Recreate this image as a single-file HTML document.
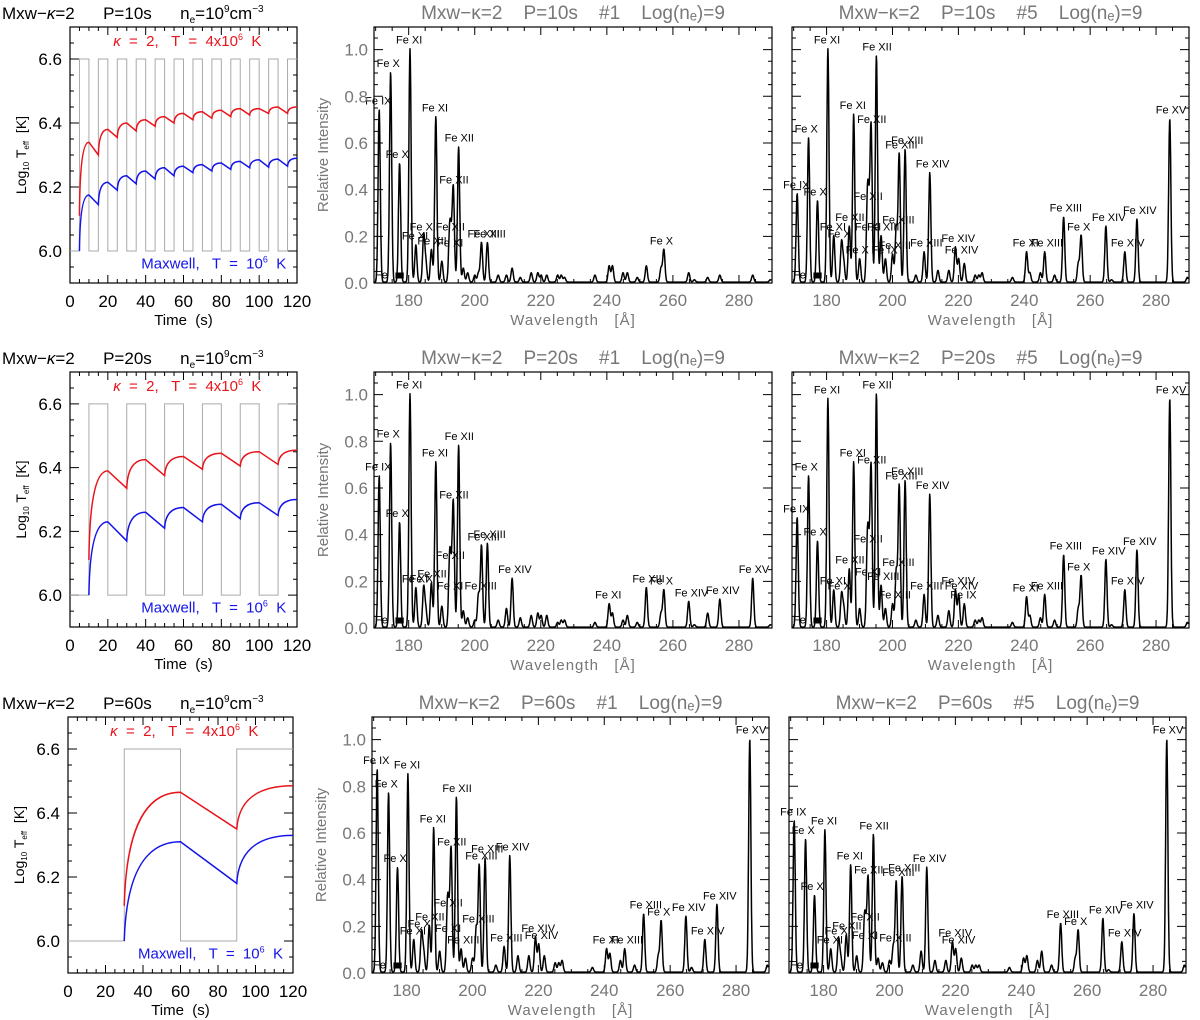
<!DOCTYPE html>
<html><head><meta charset="utf-8">
<style>
body{margin:0;background:#fff;}
svg{display:block;font-family:"Liberation Sans",sans-serif;}
text{white-space:pre;}
</style></head>
<body>
<svg id="fig" width="1200" height="1020" viewBox="0 0 1200 1020" xmlns="http://www.w3.org/2000/svg"></svg>
<script>
// ---------- data ----------
const lineWl = [171.07,174.53,177.24,180.40,182.17,184.54,185.21,186.88,188.22,190.04,192.39,192.83,193.51,195.12,196.54,197.86,200.02,201.13,202.04,203.83,207.1,209.6,211.32,213.8,217.1,219.1,220.1,221.8,225.1,226.2,227.2,236.4,240.7,241.7,244.9,246.2,249.2,251.95,256.4,257.26,264.78,266.5,270.52,274.2,284.16,289.5];
const lineIon = ["Fe IX","Fe X","Fe X","Fe XI","Fe XI","Fe X","Fe VIII","Fe XII","Fe XI","Fe X","Fe XII","Fe XI","Fe XII","Fe XII","Fe XIII","Fe IX","Fe XIII","Fe XIII","Fe XIII","Fe XIII","Fe X","Fe XIII","Fe XIV","Fe XIII","Fe IX","Fe XIV","Fe XIV","Fe IX","Fe X","Fe X","Fe X","Fe IX","Fe XI","Fe IX","Fe IX","Fe XIII","Fe IX","Fe XIII","Fe X","Fe X","Fe XIV","Fe X","Fe XIV","Fe XIV","Fe XV","Fe XV"];
const specP10n1 = [0.74,0.90,0.51,1.0,0.16,0.20,0.08,0.14,0.71,0.09,0.20,0.13,0.40,0.58,0.06,0.04,0.03,0.04,0.17,0.17,0.03,0.03,0.06,0.02,0.04,0.04,0.03,0.03,0.03,0.03,0.02,0.03,0.07,0.07,0.04,0.04,0.02,0.07,0.06,0.14,0.04,0.01,0.02,0.03,0.03,0.01];
const specP10n5 = [0.38,0.62,0.35,1.0,0.20,0.17,0.08,0.24,0.72,0.10,0.33,0.20,0.66,0.97,0.20,0.10,0.12,0.23,0.55,0.57,0.03,0.13,0.47,0.05,0.05,0.15,0.10,0.08,0.03,0.03,0.04,0.02,0.13,0.04,0.04,0.13,0.03,0.28,0.08,0.20,0.24,0.01,0.13,0.27,0.70,0.02];
const specP20n1 = [0.65,0.79,0.45,1.0,0.17,0.17,0.07,0.19,0.71,0.09,0.27,0.14,0.53,0.78,0.07,0.04,0.03,0.14,0.35,0.36,0.03,0.08,0.21,0.04,0.05,0.06,0.05,0.05,0.02,0.03,0.03,0.02,0.10,0.06,0.03,0.05,0.02,0.17,0.06,0.16,0.11,0.01,0.06,0.12,0.21,0.01];
const specP20n5 = [0.47,0.65,0.37,0.98,0.16,0.14,0.08,0.25,0.71,0.08,0.34,0.20,0.68,1.0,0.18,0.08,0.10,0.24,0.61,0.63,0.03,0.14,0.57,0.05,0.07,0.16,0.14,0.10,0.03,0.03,0.04,0.02,0.13,0.05,0.04,0.14,0.03,0.31,0.08,0.22,0.29,0.01,0.16,0.33,0.98,0.02];
const specP60n1 = [0.87,0.77,0.45,0.85,0.14,0.17,0.08,0.20,0.62,0.09,0.26,0.15,0.52,0.75,0.10,0.06,0.06,0.19,0.46,0.49,0.03,0.11,0.50,0.07,0.07,0.15,0.12,0.07,0.04,0.04,0.05,0.02,0.10,0.08,0.05,0.10,0.03,0.25,0.07,0.22,0.24,0.02,0.14,0.29,1.0,0.03];
const specP60n5 = [0.65,0.57,0.33,0.61,0.10,0.14,0.06,0.16,0.46,0.07,0.20,0.12,0.40,0.59,0.06,0.04,0.05,0.11,0.39,0.41,0.03,0.09,0.45,0.05,0.05,0.13,0.10,0.06,0.03,0.03,0.03,0.02,0.06,0.07,0.05,0.09,0.03,0.21,0.06,0.18,0.23,0.01,0.13,0.25,1.0,0.03];
const specTicks = [180,200,220,240,260,280];
const specYTicks = [0.0,0.2,0.4,0.6,0.8,1.0];

const tempTicksX = [0,20,40,60,80,100,120];
const tempTicksY = [6.0,6.2,6.4,6.6];
const p10Times = [5,10,15,20,25,30,35,40,45,50,55,60,65,70,75,80,85,90,95,100,105,110,115,120];
const p10Kappa = [6.11,6.34,6.30,6.38,6.355,6.40,6.375,6.41,6.39,6.42,6.40,6.43,6.41,6.435,6.415,6.44,6.42,6.445,6.425,6.445,6.43,6.45,6.43,6.45];
const p10Maxw  = [6.00,6.175,6.145,6.215,6.19,6.235,6.21,6.25,6.225,6.26,6.235,6.265,6.245,6.27,6.25,6.275,6.255,6.28,6.26,6.285,6.262,6.287,6.265,6.29];
const p20Times = [10,20,30,40,50,60,70,80,90,100,110,120];
const p20Kappa = [6.11,6.39,6.335,6.425,6.375,6.435,6.395,6.445,6.405,6.45,6.41,6.455];
const p20Maxw  = [6.00,6.23,6.17,6.26,6.21,6.275,6.23,6.285,6.24,6.29,6.25,6.30];
const p60Times = [30,60,90,120];
const p60Kappa = [6.11,6.465,6.35,6.485];
const p60Maxw  = [6.00,6.31,6.18,6.33];

// ---------- helpers ----------
const NS="http://www.w3.org/2000/svg";
const svg=document.getElementById('fig');
function mk(tag,attrs,parent){const e=document.createElementNS(NS,tag);for(const k in attrs)e.setAttribute(k,attrs[k]);(parent||svg).appendChild(e);return e;}
function txt(s,x,y,size,fill,anchor,parent){const t=mk('text',{x:x,y:y,'font-size':size,fill:fill,'text-anchor':anchor||'middle'},parent);t.textContent=s;return t;}

function frame(g,box,xdom,ydom,xMinor,yMinor){
  const sx=v=>box.x0+(v-xdom[0])/(xdom[1]-xdom[0])*(box.x1-box.x0);
  const sy=v=>box.y1-(v-ydom[0])/(ydom[1]-ydom[0])*(box.y1-box.y0);
  mk('rect',{x:box.x0,y:box.y0,width:box.x1-box.x0,height:box.y1-box.y0,fill:'none',stroke:'#000','stroke-width':1.2},g);
  let d='';
  for(let v=Math.ceil(xdom[0]/xMinor)*xMinor;v<=xdom[1]+1e-9;v+=xMinor){
    const major=Math.abs(v/(xMinor*4)-Math.round(v/(xMinor*4)))<1e-6;const L=major?8:4;const x=sx(v);
    d+=`M${x},${box.y1}v${-L}M${x},${box.y0}v${L}`;}
  for(let v=Math.ceil(ydom[0]/yMinor-1e-9)*yMinor;v<=ydom[1]+1e-9;v+=yMinor){
    const major=Math.abs(v/(yMinor*4)-Math.round(v/(yMinor*4)))<1e-6;const L=major?9:4;const y=sy(v);
    d+=`M${box.x0},${y}h${L}M${box.x1},${y}h${-L}`;}
  mk('path',{d:d,stroke:'#000','stroke-width':1,fill:'none'},g);
  return {sx,sy};
}

function spectrum(id,box,vals,title,showY){
  const g=mk('g',{});
  
  
  const {sx,sy}=frame(g,box,[169.5,290],[0,1.097],5,0.05);
  let d='';
  for(let l=169.6;l<=289.9;l+=0.1){
    let s=0.004;
    for(let i=0;i<lineWl.length;i++){const dl=(l-lineWl[i])/0.33;if(Math.abs(dl)<6)s+=vals[i]*Math.exp(-0.5*dl*dl);}
    d+=(d?'L':'M')+sx(l).toFixed(1)+','+sy(Math.min(s,1.09)).toFixed(1);
  }
  const p=mk('path',{d:d,fill:'none',stroke:'#000','stroke-width':1.5,'stroke-linejoin':'round'},g);
  
  
  for(let i=0;i<lineWl.length;i++){
    if(vals[i]<0.1)continue;
    const t=txt(lineIon[i],sx(lineWl[i])-14,sy(vals[i])-6,11,'#000','start',g);
    
    
  }
  mk('rect',{x:sx(176),y:sy(0.045),width:sx(178.5)-sx(176),height:6,fill:'#000'},g);
  txt('Fe',box.x0+1,sy(0.02),11,'#000','start',g);
  specTicks.forEach(v=>{const t=txt(String(v),sx(v),box.y1+23,17,'#777','middle',g);});
  if(showY){
    specYTicks.forEach(v=>{const t=txt(v.toFixed(1),box.x0-6,sy(v)+6,17,'#777','end',g);});
    const yl=txt('Relative Intensity',0,0,15,'#777','middle',g);
    yl.setAttribute('transform',`translate(${box.x0-46},${(box.y0+box.y1)/2}) rotate(-90)`);
    
    
  }
  const xl=txt('Wavelength   [Å]',(box.x0+box.x1)/2,box.y1+42,15,'#777','middle',g);
  xl.setAttribute('letter-spacing','1');
  
  
  const tt=txt(title,(box.x0+box.x1)/2,box.y0-8,19,'#777','middle',g);
  
  
}

function curvePath(sx,sy,times,vals){
  let d=`M${sx(times[0])},${sy(vals[0])}`;
  for(let i=1;i<times.length;i++){
    const x0=sx(times[i-1]),y0=sy(vals[i-1]),x1=sx(times[i]),y1=sy(vals[i]);
    if(vals[i]>vals[i-1]){const dx=x1-x0,dy=y1-y0;d+=`C${x0+0.03*dx},${y0+0.6*dy} ${x0+0.3*dx},${y1} ${x1},${y1}`;}
    else d+=`L${x1},${y1}`;
  }
  return d;
}

function tempPanel(id,box,P,start,times,kap,mxw,label){
  const g=mk('g',{});
  
  
  const {sx,sy}=frame(g,box,[0,120],[5.9,6.7],5,0.05);
  let d=`M${sx(0)},${sy(6.0)}L${sx(start)},${sy(6.0)}`;
  for(let t=start;t<120;t+=P){const h=P/2;d+=`L${sx(t)},${sy(6.6)}L${sx(Math.min(t+h,120))},${sy(6.6)}`;if(t+h<120)d+=`L${sx(t+h)},${sy(6.0)}L${sx(Math.min(t+P,120))},${sy(6.0)}`;}
  const sq=mk('path',{d:d,fill:'none',stroke:'#aaa','stroke-width':1},g);
  
  
  const r=mk('path',{d:curvePath(sx,sy,times,kap),fill:'none',stroke:'#e8141c','stroke-width':1.5},g);
  
  
  const b=mk('path',{d:curvePath(sx,sy,times,mxw),fill:'none',stroke:'#1414e8','stroke-width':1.5},g);
  
  
  const kt=mk('text',{x:sx(62),y:sy(6.64),'font-size':15,fill:'#e8141c','text-anchor':'middle'},g);
  kt.innerHTML='<tspan font-style="italic">κ</tspan>  =  2,   T  =  4x10<tspan font-size="9" dy="-6">6</tspan><tspan dy="6">  K</tspan>';
  
  
  const mt=mk('text',{x:sx(76),y:sy(5.945),'font-size':15,fill:'#1414e8','text-anchor':'middle'},g);
  mt.innerHTML='Maxwell,   T  =  10<tspan font-size="9" dy="-6">6</tspan><tspan dy="6">  K</tspan>';
  
  
  tempTicksX.forEach(v=>{const t=txt(String(v),sx(v),box.y1+24,17,'#000','middle',g);});
  tempTicksY.forEach(v=>{const t=txt(v.toFixed(1),box.x0-8,sy(v)+6,17,'#000','end',g);});
  const xl=txt('Time  (s)',(box.x0+box.x1)/2,box.y1+42,15,'#000','middle',g);
  
  
  const yl=mk('text',{'font-size':14,fill:'#000','text-anchor':'middle',transform:`translate(${box.x0-44},${(box.y0+box.y1)/2}) rotate(-90)`},g);
  yl.innerHTML='Log<tspan font-size="8" dy="3">10</tspan><tspan dy="-3"> T</tspan><tspan font-size="8" dy="3">eff</tspan><tspan dy="-3">  [K]</tspan>';
  
  
  const tt=mk('text',{x:2,y:box.y0-8,'font-size':17,fill:'#000','text-anchor':'start'},g);
  tt.innerHTML=`Mxw−<tspan font-style="italic">κ</tspan>=2      ${label}      n<tspan font-size="10" dy="4">e</tspan><tspan dy="-4">=10</tspan><tspan font-size="10" dy="-7">9</tspan><tspan dy="7">cm</tspan><tspan font-size="10" dy="-7">−3</tspan>`;
  
  
}

// ---------- build ----------
tempPanel('temp-panel-p10',{x0:70,x1:297,y0:27,y1:283},10,5,p10Times,p10Kappa,p10Maxw,'P=10s');
tempPanel('temp-panel-p20',{x0:70,x1:297,y0:372,y1:627},20,10,p20Times,p20Kappa,p20Maxw,'P=20s');
tempPanel('temp-panel-p60',{x0:68,x1:293,y0:717,y1:973},60,30,p60Times,p60Kappa,p60Maxw,'P=60s');

spectrum('spectrum-p10-1',{x0:374,x1:772,y0:27,y1:283},specP10n1,'Mxw−κ=2    P=10s    #1    Log(nₑ)=9',true);
spectrum('spectrum-p10-5',{x0:792,x1:1189,y0:27,y1:283},specP10n5,'Mxw−κ=2    P=10s    #5    Log(nₑ)=9',false);
spectrum('spectrum-p20-1',{x0:374,x1:772,y0:372,y1:628},specP20n1,'Mxw−κ=2    P=20s    #1    Log(nₑ)=9',true);
spectrum('spectrum-p20-5',{x0:792,x1:1189,y0:372,y1:628},specP20n5,'Mxw−κ=2    P=20s    #5    Log(nₑ)=9',false);
spectrum('spectrum-p60-1',{x0:372,x1:769,y0:717,y1:973},specP60n1,'Mxw−κ=2    P=60s    #1    Log(nₑ)=9',true);
spectrum('spectrum-p60-5',{x0:789,x1:1186,y0:717,y1:973},specP60n5,'Mxw−κ=2    P=60s    #5    Log(nₑ)=9',false);
</script>
</body></html>
